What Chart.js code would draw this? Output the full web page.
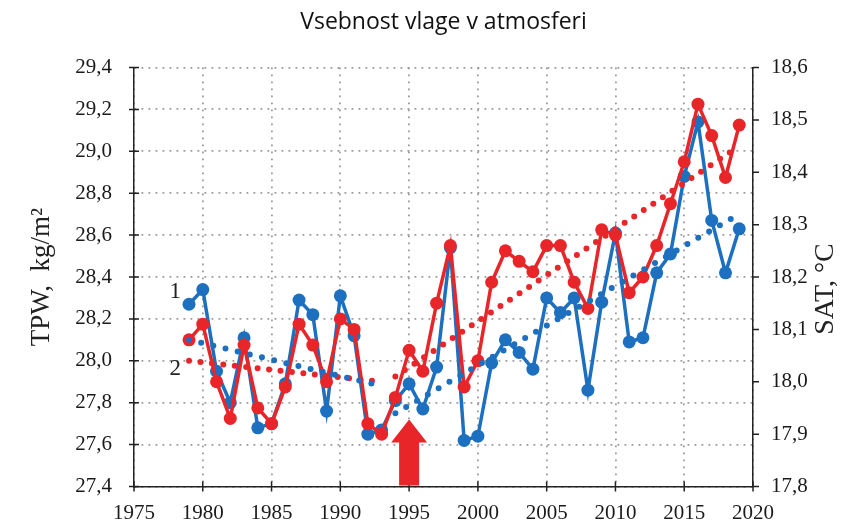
<!DOCTYPE html>
<html><head><meta charset="utf-8">
<script src="https://cdn.jsdelivr.net/npm/chart.js@4.4.0/dist/chart.umd.min.js"></script>
<style>html,body{margin:0;padding:0;background:#fff}canvas{display:block}</style>
</head><body>
<canvas id="c" width="843" height="530"></canvas>
<script>
const years = [1979,1980,1981,1982,1983,1984,1985,1986,1987,1988,1989,1990,1991,1992,1993,1994,1995,1996,1997,1998,1999,2000,2001,2002,2003,2004,2005,2006,2007,2008,2009,2010,2011,2012,2013,2014,2015,2016,2017,2018,2019];
const tpw = [28.27,28.34,27.95,27.80,28.11,27.68,27.70,27.89,28.29,28.22,27.76,28.31,28.12,27.65,27.67,27.81,27.89,27.77,27.97,28.54,27.62,27.64,27.99,28.10,28.04,27.96,28.30,28.23,28.30,27.86,28.28,28.61,28.09,28.11,28.42,28.51,28.88,29.14,28.67,28.42,28.63];
const sat = [18.08,18.11,18.00,17.93,18.07,17.95,17.92,17.99,18.11,18.07,18.00,18.12,18.10,17.92,17.90,17.97,18.06,18.02,18.15,18.26,17.99,18.04,18.19,18.25,18.23,18.21,18.26,18.26,18.19,18.14,18.29,18.28,18.17,18.20,18.26,18.34,18.42,18.53,18.47,18.39,18.49];
const tpwTrendYears = [1979,1993,1993.5,1994,2019];
const tpwTrendValues = [28.10,27.88,null,27.75,28.70];
const satTrendYears = [1979,1993,1993.5,1994,2019];
const satTrendValues = [18.04,18.00,null,18.01,18.45];
const xTicks = [1975,1980,1985,1990,1995,2000,2005,2010,2015,2020];
const tpwTicks = [27.4,27.6,27.8,28.0,28.2,28.4,28.6,28.8,29.0,29.2,29.4];
const satTicks = [17.8,17.9,18.0,18.1,18.2,18.3,18.4,18.5,18.6];
const arrowYear = 1995, arrowTip = 27.72, arrowHeadBase = 27.61;
const seriesLabels = [{text:'1', year:1978, value:28.33},{text:'2', year:1978, value:27.96}];

const BLUE = '#1d6fc0', RED = '#e8262a';
const pts = (xs, ys) => xs.map((v,i)=>({x:v, y:ys[i]}));
const fmt = v => v.toFixed(1).replace('.', ',');
const serif = '"Liberation Serif", "Times New Roman", serif';

const decor = {
  id: 'decor',
  afterDraw(chart) {
    const {ctx, chartArea: a, scales: {x, y, y2}} = chart;
    ctx.save();
    ctx.strokeStyle = '#222'; ctx.lineWidth = 1.5;
    ctx.beginPath();
    tpwTicks.forEach(v => { const py = y.getPixelForValue(v); ctx.moveTo(a.left-5, py); ctx.lineTo(a.left+5, py); });
    xTicks.forEach(v => { const px = x.getPixelForValue(v); ctx.moveTo(px, a.bottom-5); ctx.lineTo(px, a.bottom+5); });
    satTicks.forEach(v => { const py = y2.getPixelForValue(v); ctx.moveTo(a.right, py); ctx.lineTo(a.right+6, py); });
    ctx.stroke();
    const ax = x.getPixelForValue(arrowYear);
    const tip = y.getPixelForValue(arrowTip), base = y.getPixelForValue(arrowHeadBase);
    ctx.fillStyle = RED;
    ctx.beginPath();
    ctx.moveTo(ax, tip); ctx.lineTo(ax+18, base); ctx.lineTo(ax+10, base); ctx.lineTo(ax+10, a.bottom-1);
    ctx.lineTo(ax-10, a.bottom-1); ctx.lineTo(ax-10, base); ctx.lineTo(ax-18, base); ctx.closePath(); ctx.fill();
    ctx.fillStyle = '#222'; ctx.font = '23px ' + serif; ctx.textAlign = 'center'; ctx.textBaseline = 'middle';
    seriesLabels.forEach(l => ctx.fillText(l.text, x.getPixelForValue(l.year), y.getPixelForValue(l.value)));
    ctx.save();
    ctx.translate(826, (a.top + a.bottom) / 2 + 12);
    ctx.rotate(-Math.PI / 2);
    ctx.font = '28px ' + serif;
    ctx.fillText('SAT, \u00B0C', 0, 0);
    ctx.restore();
    ctx.restore();
  }
};

new Chart(document.getElementById('c'), {
  type: 'line',
  data: {
    datasets: [
      {data: pts(tpwTrendYears, tpwTrendValues), yAxisID: 'y', borderColor: BLUE, borderWidth: 6, borderDash: [0, 12.5], borderCapStyle: 'round', pointRadius: 0, spanGaps: false, order: 1},
      {data: pts(satTrendYears, satTrendValues), yAxisID: 'y2', borderColor: RED, borderWidth: 6, borderDash: [0, 11.5], borderCapStyle: 'round', pointRadius: 0, spanGaps: false, order: 2},
      {data: pts(years, sat), yAxisID: 'y2', borderColor: RED, backgroundColor: RED, borderWidth: 3.5, pointRadius: 6.5, pointBorderWidth: 0, pointBackgroundColor: RED, order: 3},
      {data: pts(years, tpw), yAxisID: 'y', borderColor: BLUE, backgroundColor: BLUE, borderWidth: 3.5, pointRadius: 6.5, pointBorderWidth: 0, pointBackgroundColor: BLUE, order: 4}
    ]
  },
  options: {
    responsive: false, animation: false, devicePixelRatio: 1,
    layout: {padding: 0},
    plugins: {
      legend: {display: false}, tooltip: {enabled: false},
      title: {display: true, fullSize: false, text: 'Vsebnost vlage v atmosferi', color: '#111',
        font: {family: '"Open Sans", sans-serif', size: 23, weight: 'normal', lineHeight: 1.2},
        padding: {top: 9, bottom: 30.9}}
    },
    scales: {
      x: {type: 'linear', min: 1975, max: 2020,
        afterBuildTicks: s => { s.ticks = xTicks.map(v => ({value: v})); },
        afterFit: s => { s.height = 43.5; },
        ticks: {callback: v => String(v), color: '#1a1a1a', font: {family: serif, size: 21}, padding: 14, maxRotation: 0},
        grid: {color: '#9a9a9a', lineWidth: 1.8, drawTicks: false},
        border: {color: '#222', width: 1.5, dash: [1.8, 5.2]}
      },
      y: {position: 'left', min: 27.4, max: 29.4,
        afterBuildTicks: s => { s.ticks = tpwTicks.map(v => ({value: v})); },
        afterFit: s => { s.width = 134; },
        ticks: {callback: v => fmt(v), color: '#1a1a1a', font: {family: serif, size: 21}, padding: 22},
        grid: {color: '#9a9a9a', lineWidth: 1.8, drawTicks: false},
        border: {color: '#222', width: 1.5, dash: [1.8, 5.2]},
        title: {display: true, text: 'TPW,  kg/m\u00B2', color: '#222', font: {family: serif, size: 27, lineHeight: 1.2}, padding: {top: 26}}
      },
      y2: {position: 'right', min: 17.8, max: 18.6,
        afterBuildTicks: s => { s.ticks = satTicks.map(v => ({value: v})); },
        afterFit: s => { s.width = 90; },
        ticks: {callback: v => fmt(v), color: '#1a1a1a', font: {family: serif, size: 21}, padding: 18},
        grid: {drawOnChartArea: false, drawTicks: false},
        border: {color: '#222', width: 1.5}
      }
    }
  },
  plugins: [decor]
});
</script>
</body></html>
